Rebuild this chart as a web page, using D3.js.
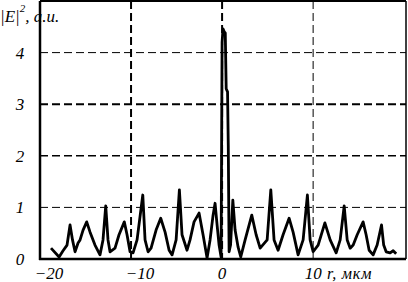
<!DOCTYPE html>
<html>
<head>
<meta charset="utf-8">
<script src="https://cdn.jsdelivr.net/npm/d3@7"></script>
<style>
  body { margin: 0; background: #fff; }
  text { font-family: "Liberation Serif", "DejaVu Serif", serif; font-style: italic; fill: #000; }
</style>
</head>
<body>
<div class="chart"></div>
<script>
// r, мкм
const rVals = [-18.79, -17.9, -17.47, -17.03, -16.7, -16.43, -16.15, -15.82, -15.6, -15.27, -14.87, -14.5, -13.96, -13.41,
  -13.08, -12.78, -12.53, -12.31, -11.76, -11.32, -10.74, -10.44, -10.11, -9.78, -9.34, -8.71, -8.46, -8.13, -7.8,
  -7.25, -6.74, -6.26, -5.82, -5.49, -5.05, -4.69, -4.4, -3.85, -3.52, -3.08, -2.53, -2.09, -1.65, -1.32, -0.99,
  -0.77, -0.55, -0.33, -0.11, 0.0, 0.1, 0.25, 0.35, 0.45, 0.6, 0.68, 0.77, 0.93, 1.18, 1.43, 1.76, 2.05, 2.53, 3.26,
  3.74, 4.18, 4.95, 5.35, 5.71, 6.15, 6.7, 7.36, 7.8, 8.35, 8.9, 9.37, 9.67, 10.0, 10.55, 11.29, 11.87, 12.53,
  12.97, 13.41, 13.74, 14.07, 14.4, 14.84, 15.49, 15.82, 16.15, 16.59, 17.03, 17.51, 17.75, 18.02, 18.46, 18.79, 19.12];
// |E|^2, a.u.
const eVals = [0.21, 0.04, 0.16, 0.27, 0.66, 0.37, 0.14, 0.31, 0.37, 0.56, 0.72, 0.52, 0.27, 0.08,
  0.37, 1.03, 0.37, 0.14, 0.21, 0.47, 0.72, 0.47, 0.14, 0.12, 0.37, 1.24, 0.37, 0.14, 0.21,
  0.56, 0.79, 0.52, 0.17, 0.08, 0.37, 1.34, 0.47, 0.17, 0.37, 0.72, 0.89, 0.47, 0.02, 0.37, 0.85,
  1.08, 0.66, 0.27, 0.04, 4.2, 4.46, 4.4, 4.38, 3.3, 3.24, 2.2, 0.14, 0.27, 1.14, 0.56, 0.23, 0.04, 0.37, 0.85,
  0.47, 0.21, 0.37, 1.34, 0.37, 0.17, 0.47, 0.79, 0.52, 0.08, 0.37, 1.24, 0.37, 0.14, 0.27, 0.7, 0.37, 0.12,
  0.37, 1.03, 0.37, 0.21, 0.27, 0.47, 0.72, 0.47, 0.17, 0.08, 0.27, 0.66, 0.27, 0.14, 0.12, 0.16, 0.1];

const xTicks = [-20, -10, 0, 10];
const yTicks = [0, 1, 2, 3, 4];
const xGrid = [-10, 0, 10];
const yGrid = [1, 2, 3, 4];

const width = 408, height = 282;
const margin = { top: 1, right: 2, bottom: 23, left: 40 };

const svg = d3.select(".chart").append("svg")
  .attr("width", width)
  .attr("height", height);

const x = d3.scaleLinear()
  .domain([-20, 20.2])
  .range([margin.left, width - margin.right]);

const y = d3.scaleLinear()
  .domain([0, 5])
  .range([height - margin.bottom, margin.top]);

// grid
svg.selectAll(".hgrid")
  .data(yGrid)
  .join("line")
  .attr("class", "hgrid")
  .attr("x1", x(-20)).attr("x2", x(20.2))
  .attr("y1", d => y(d)).attr("y2", d => y(d))
  .attr("stroke", "#000")
  .attr("stroke-width", d => d === 3 ? 2 : (d === 2 ? 1.5 : 1))
  .attr("stroke-dasharray", "8,4");

svg.selectAll(".vgrid")
  .data(xGrid)
  .join("line")
  .attr("class", "vgrid")
  .attr("x1", d => x(d)).attr("x2", d => x(d))
  .attr("y1", y(5)).attr("y2", y(0))
  .attr("stroke", "#000")
  .attr("stroke-width", d => d === 10 ? 1 : 2)
  .attr("stroke-dasharray", "8,4");

// curve
const pts = rVals.map((r, i) => [r, eVals[i]]);
const line = d3.line()
  .x(d => x(d[0]))
  .y(d => y(d[1]));

svg.append("path")
  .datum(pts)
  .attr("d", line)
  .attr("fill", "none")
  .attr("stroke", "#000")
  .attr("stroke-width", 2.8)
  .attr("stroke-linejoin", "round");

// frame
svg.append("line")
  .attr("x1", x(-20)).attr("x2", x(20.2))
  .attr("y1", y(5)).attr("y2", y(5))
  .attr("stroke", "#000").attr("stroke-width", 2);
svg.append("line")
  .attr("x1", x(20.2)).attr("x2", x(20.2))
  .attr("y1", y(5)).attr("y2", y(0))
  .attr("stroke", "#000").attr("stroke-width", 1.5);
svg.append("line")
  .attr("x1", x(-20)).attr("x2", x(-20))
  .attr("y1", y(5)).attr("y2", y(0) + 1)
  .attr("stroke", "#000").attr("stroke-width", 2.5);
svg.append("line")
  .attr("x1", x(-20) - 1).attr("x2", x(20.2))
  .attr("y1", y(0)).attr("y2", y(0))
  .attr("stroke", "#000").attr("stroke-width", 2.5);

// tick labels
svg.selectAll(".ylab")
  .data(yTicks)
  .join("text")
  .attr("class", "ylab")
  .attr("x", 20)
  .attr("y", d => y(d) + 6)
  .attr("text-anchor", "middle")
  .attr("font-size", 17)
  .text(d => d);

svg.selectAll(".xlab")
  .data(xTicks)
  .join("text")
  .attr("class", "xlab")
  .attr("x", d => x(d) + (d < 0 ? 9 : 0))
  .attr("y", 279)
  .attr("text-anchor", "middle")
  .attr("font-size", 17)
  .text(d => d < 0 ? "\u2212" + Math.abs(d) : d);

// axis titles
const yt = svg.append("text")
  .attr("x", 0)
  .attr("y", 22)
  .attr("font-size", 17);
yt.append("tspan").text("|E|");
yt.append("tspan").attr("dy", -10).attr("font-size", 11).text("2");
yt.append("tspan").attr("dy", 10).text(", a.u.");

svg.append("text")
  .attr("x", 327)
  .attr("y", 279)
  .attr("font-size", 16)
  .attr("letter-spacing", 0.8)
  .text("r, мкм");
</script>
</body>
</html>
